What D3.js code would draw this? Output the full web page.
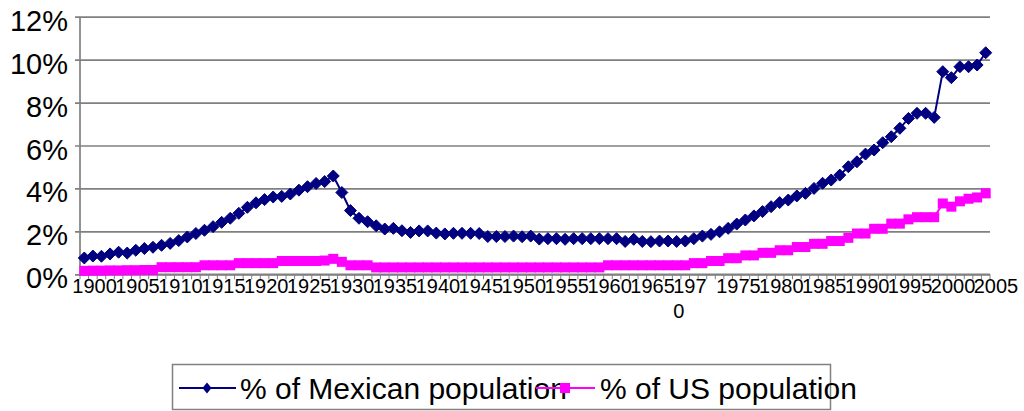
<!DOCTYPE html>
<html>
<head>
<meta charset="utf-8">
<script src="https://cdn.jsdelivr.net/npm/d3@7"></script>
<style>
  html, body { margin: 0; padding: 0; background: #fff; }
  svg { display: block; }
  text { font-family: "Liberation Sans", Arial, sans-serif; fill: #000; }
</style>
</head>
<body>
<svg id="chart" width="1024" height="411"></svg>
<script>
// Years on the category axis
const years = [
  1900,1901,1902,1903,1904,1905,1906,1907,1908,1909,
  1910,1911,1912,1913,1914,1915,1916,1917,1918,1919,
  1920,1921,1922,1923,1924,1925,1926,1927,1928,1929,
  1930,1931,1932,1933,1934,1935,1936,1937,1938,1939,
  1940,1941,1942,1943,1944,1945,1946,1947,1948,1949,
  1950,1951,1952,1953,1954,1955,1956,1957,1958,1959,
  1960,1961,1962,1963,1964,1965,1966,1967,1968,1969,
  1970,1971,1972,1973,1974,1975,1976,1977,1978,1979,
  1980,1981,1982,1983,1984,1985,1986,1987,1988,1989,
  1990,1991,1992,1993,1994,1995,1996,1997,1998,1999,
  2000,2001,2002,2003,2004,2005
];

// Share of the Mexican population (%)
const pctMexican = [
  0.76,0.85,0.84,0.95,1.03,0.99,1.12,1.20,1.26,1.35,
  1.44,1.57,1.74,1.90,2.05,2.22,2.42,2.61,2.84,3.12,
  3.33,3.48,3.60,3.63,3.74,3.92,4.08,4.23,4.32,4.58,
  3.81,2.97,2.61,2.45,2.26,2.11,2.14,2.03,1.95,2.02,
  2.02,1.92,1.88,1.91,1.91,1.91,1.90,1.76,1.76,1.76,
  1.78,1.75,1.78,1.64,1.66,1.66,1.63,1.66,1.66,1.66,
  1.66,1.66,1.66,1.53,1.63,1.53,1.52,1.55,1.55,1.53,
  1.55,1.66,1.78,1.86,1.98,2.14,2.34,2.53,2.72,2.92,
  3.15,3.34,3.46,3.65,3.77,4.00,4.24,4.39,4.62,5.01,
  5.24,5.60,5.79,6.13,6.41,6.80,7.26,7.50,7.50,7.31,
  9.44,9.16,9.67,9.67,9.75,10.32
];

// Share of the US population (%)
const pctUS = [
  0.16,0.17,0.17,0.18,0.18,0.19,0.19,0.20,0.20,0.33,
  0.33,0.33,0.33,0.33,0.42,0.42,0.42,0.42,0.52,0.52,
  0.52,0.52,0.52,0.62,0.62,0.62,0.62,0.62,0.64,0.72,
  0.58,0.42,0.42,0.42,0.32,0.32,0.32,0.32,0.32,0.32,
  0.32,0.32,0.32,0.32,0.32,0.32,0.32,0.32,0.32,0.32,
  0.32,0.32,0.32,0.32,0.32,0.32,0.32,0.32,0.32,0.32,
  0.32,0.42,0.42,0.42,0.42,0.42,0.42,0.42,0.42,0.42,
  0.42,0.52,0.52,0.62,0.62,0.75,0.75,0.88,0.88,1.00,
  1.00,1.12,1.12,1.27,1.27,1.42,1.42,1.55,1.55,1.70,
  1.90,1.90,2.12,2.12,2.36,2.36,2.56,2.66,2.66,2.66,
  3.30,3.15,3.40,3.52,3.58,3.77
];

// Axis labels
const yTicks = [0, 2, 4, 6, 8, 10, 12];
const xTickLabels = ["1900","1905","1910","1915","1920","1925","1930","1935","1940","1945","1950",
                     "1955","1960","1965","1970","1975","1980","1985","1990","1995","2000","2005"];
const wrappedLabels = ["1970"];   // too wide for its slot, breaks onto a second line
const seriesNames = ["% of Mexican population", "% of US population"];

const svg = d3.select("#chart");
const plot = { left: 80, right: 990, top: 16.7, bottom: 274.3 };

const x = d3.scaleBand().domain(years).range([plot.left, plot.right]).padding(0);
const cx = yr => x(yr) + x.bandwidth() / 2;
const y = d3.scaleLinear().domain([0, 12]).range([plot.bottom, plot.top]);

const gridColor = "#808080";

// Horizontal gridlines with short outer ticks
const yAxis = d3.axisLeft(y).tickValues(yTicks).tickSize(-(plot.right - plot.left)).tickFormat(() => "");
const gy = svg.append("g").attr("transform", `translate(${plot.left},0)`).call(yAxis);
gy.select(".domain").remove();
gy.selectAll(".tick line").attr("stroke", gridColor).attr("stroke-width", 1.7).attr("x1", -5);

// Y tick labels
svg.append("g").selectAll("text").data(yTicks).join("text")
  .attr("x", 68).attr("y", d => y(d) + 14)
  .attr("text-anchor", "end")
  .attr("font-size", 29)
  .text(d => d + "%");

// Left axis line
svg.append("line")
  .attr("x1", plot.left).attr("x2", plot.left)
  .attr("y1", plot.top).attr("y2", plot.bottom)
  .attr("stroke", gridColor).attr("stroke-width", 1.7);

// Category axis: baseline and a tick at every category boundary
svg.append("line")
  .attr("x1", plot.left).attr("x2", plot.right)
  .attr("y1", plot.bottom).attr("y2", plot.bottom)
  .attr("stroke", gridColor).attr("stroke-width", 1.7);
const boundaries = years.map(yr => x(yr)).concat([plot.right]);
svg.append("g").selectAll("line").data(boundaries).join("line")
  .attr("x1", d => d).attr("x2", d => d)
  .attr("y1", plot.bottom).attr("y2", plot.bottom + 5)
  .attr("stroke", gridColor).attr("stroke-width", 1);

// Category labels, every fifth year
const xl = svg.append("g").attr("font-size", 20);
xTickLabels.forEach(lbl => {
  const t = xl.append("text")
    .attr("x", cx(+lbl) - 12)
    .attr("y", 293)
    .attr("text-anchor", "start");
  if (wrappedLabels.includes(lbl)) {
    t.append("tspan").attr("x", cx(+lbl) - 12).text(lbl.slice(0, 3));
    t.append("tspan").attr("x", cx(+lbl) - 12).attr("dy", 25).text(lbl.slice(3));
  } else {
    t.text(lbl);
  }
});

// Series
const navy = "#000080", magenta = "#FF00FF";
const diamond = "M0,-6L6,0L0,6L-6,0Z";

const mexData = years.map((yr, i) => ({ yr, v: pctMexican[i] }));
const usData = years.map((yr, i) => ({ yr, v: pctUS[i] }));
const line = d3.line().x(d => cx(d.yr)).y(d => y(d.v));

svg.append("path").datum(mexData).attr("d", line)
  .attr("fill", "none").attr("stroke", navy).attr("stroke-width", 2);
svg.append("g").selectAll("path").data(mexData).join("path")
  .attr("d", diamond)
  .attr("transform", d => `translate(${cx(d.yr)},${y(d.v)})`)
  .attr("fill", navy).attr("stroke", navy).attr("stroke-width", 1);

svg.append("path").datum(usData).attr("d", line)
  .attr("fill", "none").attr("stroke", magenta).attr("stroke-width", 2);
svg.append("g").selectAll("rect").data(usData).join("rect")
  .attr("x", d => cx(d.yr) - 5).attr("y", d => y(d.v) - 5)
  .attr("width", 10).attr("height", 10)
  .attr("fill", magenta);

// Legend (the entries run slightly past the frame on the right)
const lg = svg.append("g");
lg.append("rect")
  .attr("x", 172.5).attr("y", 364.5).attr("width", 658).attr("height", 45)
  .attr("fill", "none").attr("stroke", gridColor).attr("stroke-width", 1.5);

const legendY = 388;
lg.append("line").attr("x1", 179).attr("x2", 236).attr("y1", legendY).attr("y2", legendY)
  .attr("stroke", navy).attr("stroke-width", 2);
lg.append("path").attr("d", "M0,-5.5L4.5,0L0,5.5L-4.5,0Z")
  .attr("transform", `translate(207,${legendY})`).attr("fill", navy);
lg.append("text").attr("x", 240).attr("y", legendY + 11).attr("font-size", 30).text(seriesNames[0]);

lg.append("line").attr("x1", 536).attr("x2", 595).attr("y1", legendY).attr("y2", legendY)
  .attr("stroke", magenta).attr("stroke-width", 2);
lg.append("rect").attr("x", 560).attr("y", legendY - 5).attr("width", 10).attr("height", 10)
  .attr("fill", magenta);
lg.append("text").attr("x", 600).attr("y", legendY + 11).attr("font-size", 30).text(seriesNames[1]);
</script>
</body>
</html>
